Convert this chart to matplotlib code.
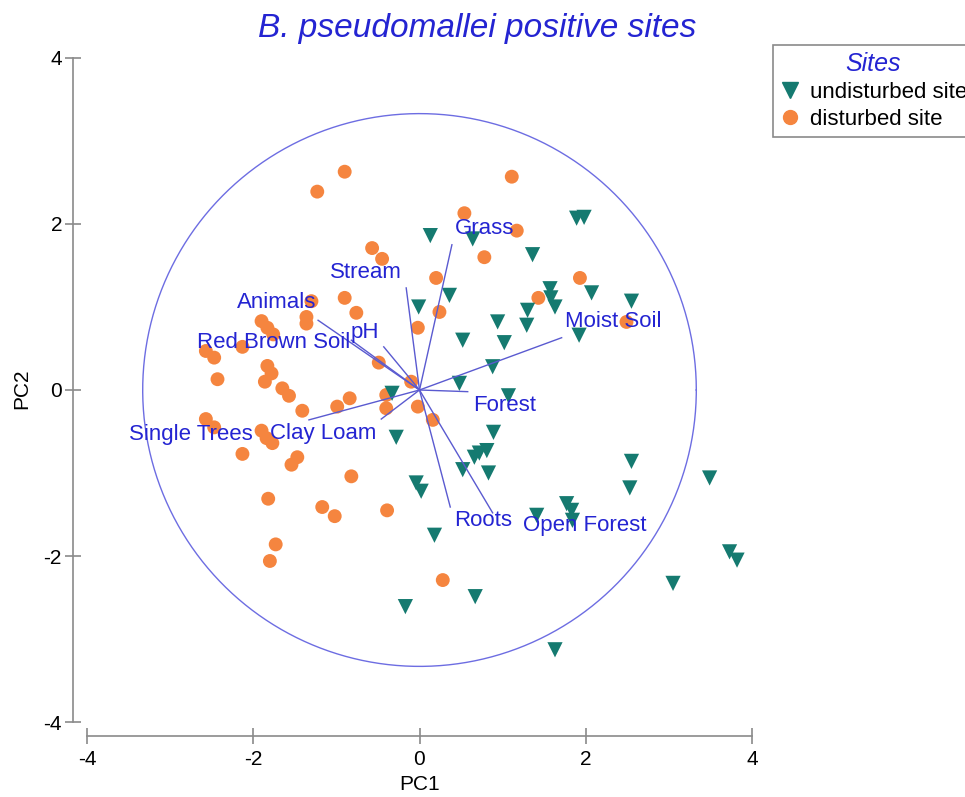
import numpy as np
import matplotlib
matplotlib.use("Agg")
import matplotlib.pyplot as plt
from matplotlib.lines import Line2D

plt.rcParams['font.family'] = ['Liberation Sans', 'DejaVu Sans']

# ---------------- data ----------------
undist_pc1 = [1.89, 1.98, 0.13, 0.64, 1.36, 0.36, -0.01, 1.57, 1.58, 1.63, 2.07, 2.55,
              1.30, 0.94, 1.29, 1.92, 0.52, 1.02, 0.88, 0.48, 1.07, -0.33, -0.28, 0.89,
              0.81, 0.72, 0.66, 0.52, 0.83, -0.04, 0.02, 0.18, 1.41, 1.77, 1.83, 1.84,
              2.55, 2.53, 3.49, 3.73, 3.82, 3.05, 0.67, -0.17, 1.63]
undist_pc2 = [2.07, 2.08, 1.86, 1.82, 1.63, 1.14, 1.00, 1.22, 1.11, 1.00, 1.17, 1.07,
              0.96, 0.82, 0.78, 0.66, 0.60, 0.57, 0.28, 0.08, -0.07, -0.04, -0.57, -0.51,
              -0.73, -0.76, -0.81, -0.96, -1.00, -1.12, -1.22, -1.75, -1.51, -1.37, -1.45, -1.57,
              -0.86, -1.18, -1.06, -1.95, -2.05, -2.33, -2.49, -2.61, -3.13]

dist_pc1 = [-0.90, -1.23, -0.57, -0.45, 0.20, -1.30, -0.90, -0.76, -1.36, -1.36, -1.90, -1.83,
            -1.76, -2.13, -2.57, -2.47, -0.02, -1.83, -1.78, -1.86, -2.43, -0.49, -0.10, -1.65,
            -1.57, -0.40, -0.84, -0.99, -0.40, -1.41, -0.02, 0.16, -2.57, -2.47, -1.90, -1.84,
            -1.77, -2.13, -1.47, -1.54, -0.82, -1.82, -1.17, -1.02, -0.39, -1.73, -1.80, 0.28,
            1.11, 0.54, 1.17, 0.78, 1.93, 1.43, 0.24, 2.49]
dist_pc2 = [2.63, 2.39, 1.71, 1.58, 1.35, 1.07, 1.11, 0.93, 0.88, 0.80, 0.83, 0.75,
            0.67, 0.52, 0.47, 0.39, 0.75, 0.29, 0.20, 0.10, 0.13, 0.33, 0.10, 0.02,
            -0.07, -0.06, -0.10, -0.20, -0.22, -0.25, -0.20, -0.36, -0.35, -0.45, -0.49, -0.58,
            -0.64, -0.77, -0.81, -0.90, -1.04, -1.31, -1.41, -1.52, -1.45, -1.86, -2.06, -2.29,
            2.57, 2.13, 1.92, 1.60, 1.35, 1.11, 0.94, 0.82]

var_names = ['Grass', 'Stream', 'Animals', 'pH', 'Red Brown Soil', 'Single Trees',
             'Clay Loam', 'Moist Soil', 'Forest', 'Roots', 'Open Forest']
load_pc1 = [0.39, -0.16, -1.22, -0.43, -0.82, -1.33, -0.46, 1.71, 0.58, 0.37, 0.88]
load_pc2 = [1.75, 1.23, 0.84, 0.52, 0.60, -0.36, -0.35, 0.63, -0.02, -1.41, -1.48]
label_pc1 = [0.78, -0.65, -1.72, -0.66, -1.76, -2.75, -1.16, 2.33, 1.02, 0.77, 1.99]
label_pc2 = [1.94, 1.42, 1.05, 0.69, 0.57, -0.54, -0.53, 0.82, -0.19, -1.57, -1.63]

circle_radius = 3.33
x_ticks = [-4, -2, 0, 2, 4]
y_ticks = [-4, -2, 0, 2, 4]

# ---------------- style ----------------
teal = '#157a70'
orange = '#f5853f'
blue_txt = '#2424d2'
line_blue = '#5a5ad0'
circ_blue = '#6d6de2'
gray = '#8a8a8a'

fig = plt.figure(figsize=(9.65, 7.97), dpi=100)
ax = fig.add_axes([87/965, 75/797, 665/965, 664/797])

ax.set_xlim(-4, 4)
ax.set_ylim(-4, 4)

# circle
t = np.linspace(0, 2*np.pi, 400)
ax.plot(circle_radius*np.cos(t), circle_radius*np.sin(t), color=circ_blue, lw=1.0, zorder=1)

# points
ax.scatter(dist_pc1, dist_pc2, marker='o', s=100, color=orange, edgecolors='none', zorder=2)
ax.scatter(undist_pc1, undist_pc2, marker='v', s=120, color=teal, edgecolors='none', zorder=3)

# vectors
for name, lx, ly, tx, ty in zip(var_names, load_pc1, load_pc2, label_pc1, label_pc2):
    ax.plot([0, lx], [0, ly], color=line_blue, lw=1.0, zorder=4)
    ax.text(tx, ty, name, color=blue_txt, fontsize=16, ha='center', va='center', zorder=5)

# axes styling
for s in ['top', 'right']:
    ax.spines[s].set_visible(False)
for s in ['left', 'bottom']:
    ax.spines[s].set_color(gray)
    ax.spines[s].set_linewidth(1.2)
    ax.spines[s].set_position(('outward', 10))
ax.spines['left'].set_bounds(-4, 4)
ax.spines['bottom'].set_bounds(-4, 4)

ax.set_xticks(x_ticks)
ax.set_yticks(y_ticks)
ax.set_xticklabels([str(v) for v in x_ticks])
ax.set_yticklabels([str(v) for v in y_ticks])
ax.tick_params(axis='both', direction='inout', length=12, width=1.2, color=gray,
               labelsize=15, labelcolor='black')
ax.tick_params(axis='x', pad=4)
ax.tick_params(axis='y', pad=2)

fig.text(420/965, 1 - 785/797, 'PC1', fontsize=15, ha='center', va='center')
fig.text(22/965, 1 - 389/797, 'PC2', fontsize=15, ha='center', va='center', rotation=90)

fig.text(477/965, 1 - 29/797, 'B. pseudomallei positive sites', fontsize=24,
         style='italic', color=blue_txt, ha='center', va='center')

handles = [Line2D([], [], marker='v', color=teal, linestyle='none', markersize=11),
           Line2D([], [], marker='o', color=orange, linestyle='none', markersize=10)]
leg = fig.legend(handles, ['undisturbed site', 'disturbed site'], loc='upper left',
                 bbox_to_anchor=(773/965, 1 - 45/797), bbox_transform=fig.transFigure,
                 borderaxespad=0, fontsize=16, title='Sites', fancybox=False,
                 handlelength=0.95, handletextpad=0.4, borderpad=0.3, labelspacing=0.28,
                 framealpha=1)
leg.get_frame().set_edgecolor(gray)
leg.get_frame().set_linewidth(1.2)
tt = leg.get_title()
tt.set_fontsize(18)
tt.set_style('italic')
tt.set_color(blue_txt)

fig.savefig('out.png', dpi=100)
